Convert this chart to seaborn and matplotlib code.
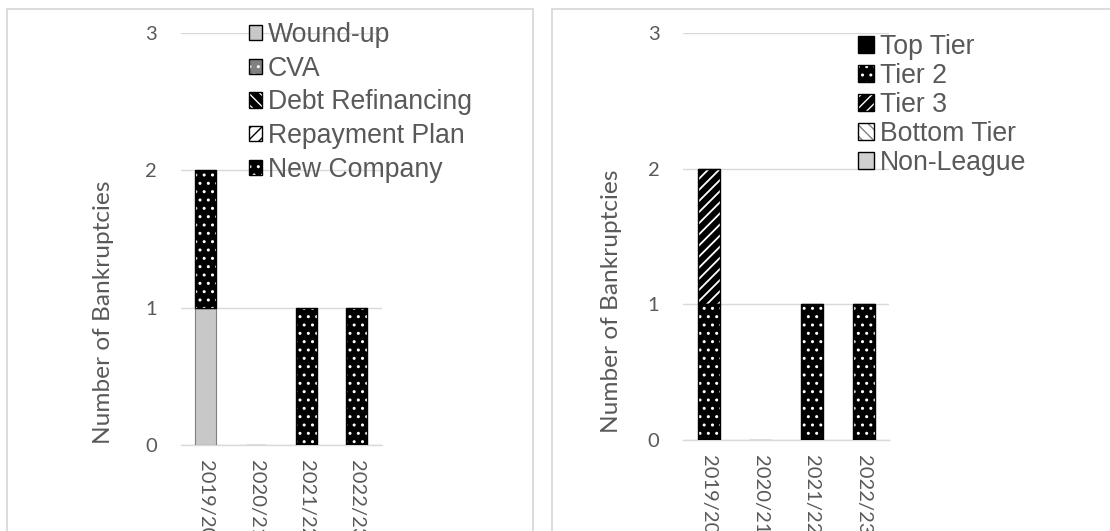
import matplotlib
matplotlib.use("Agg")
import matplotlib.pyplot as plt
import matplotlib.patches as mpatches
import seaborn as sns

# Seasons on the x axis
seasons = ["2019/20", "2020/21", "2021/22", "2022/23"]

# Left panel: outcome of each bankruptcy
outcome_labels = ["Wound-up", "CVA", "Debt Refinancing", "Repayment Plan", "New Company"]
wound_up = [1, 0, 0, 0]
cva = [0, 0, 0, 0]
debt_refinancing = [0, 0, 0, 0]
repayment_plan = [0, 0, 0, 0]
new_company = [1, 0, 1, 1]

# Right panel: league tier of the club at the time
tier_labels = ["Top Tier", "Tier 2", "Tier 3", "Bottom Tier", "Non-League"]
top_tier = [0, 0, 0, 0]
tier_2 = [1, 0, 1, 1]
tier_3 = [1, 0, 0, 0]
bottom_tier = [0, 0, 0, 0]
non_league = [0, 0, 0, 0]

y_ticks = [0, 1, 2, 3]

sns.set_theme(style="white")
plt.rcParams["hatch.linewidth"] = 1.0

TEXT = "#595959"
GRID = "#d9d9d9"
TICK_FONT = "Lato"
LEG_FONT = "Liberation Sans"

# (face, edge/hatch colour, hatch, edge width, hatch width)
outcome_styles = [
    ("#c8c8c8", "#7f7f7f", None, 0.8, 1.0),
    ("#808080", "white", "..", 0.0, 1.0),
    ("black", "white", "\\\\\\", 0.0, 1.3),
    ("white", "black", "///", 0.8, 1.3),
    ("black", "white", "..", 0.0, 1.0),
]
tier_styles = [
    ("black", "black", None, 0.0, 1.0),
    ("black", "white", "..", 0.0, 1.0),
    ("black", "white", "///", 0.0, 1.3),
    ("white", "#808080", "\\\\\\", 0.8, 1.3),
    ("#d0d0d0", "black", None, 0.8, 1.0),
]

fig = plt.figure(figsize=(11.1, 5.31), dpi=100)
W, H = 1110, 531


def fig_rect(x0, y_top, x1, y_bottom):
    return [x0 / W, 1 - y_bottom / H, (x1 - x0) / W, (y_bottom - y_top) / H]


ax_l = fig.add_axes(fig_rect(180.5, 32.8, 382, 445))
ax_r = fig.add_axes(fig_rect(683, 32.8, 889.4, 440))


def stacked(ax, series, styles, width):
    bottom = [0] * len(seasons)
    for values, (face, edge, hatch, lw, hlw) in zip(series, styles):
        n_before = len(ax.patches)
        sns.barplot(x=seasons, y=values, order=seasons, ax=ax, width=width,
                    errorbar=None, saturation=1, color=face, facecolor=face,
                    edgecolor=edge, hatch=hatch, linewidth=lw,
                    bottom=list(bottom), zorder=3)
        new = ax.patches[n_before:]
        for p in new:
            if hasattr(p, "set_hatch_linewidth"):
                p.set_hatch_linewidth(hlw)
        # thin dark frame around hatched segments with a white pattern
        if hatch and edge == "white":
            for p in new:
                if p.get_height() > 0:
                    ax.add_patch(mpatches.Rectangle(
                        p.get_xy(), p.get_width(), p.get_height(),
                        fill=False, edgecolor="black", linewidth=1.0, zorder=4))
        bottom = [b + v for b, v in zip(bottom, values)]


def style_axes(ax, label_x, label_y):
    ax.set_ylim(0, 3)
    ax.set_yticks(y_ticks)
    ax.set_yticklabels([str(t) for t in y_ticks], fontfamily=TICK_FONT,
                       fontsize=14.5, color=TEXT)
    ax.set_xticks(range(len(seasons)))
    ax.set_xticklabels(seasons, rotation=-90, fontfamily=TICK_FONT,
                       fontsize=14.5, color=TEXT, va="top", ha="center")
    ax.tick_params(axis="y", length=0, pad=17)
    ax.tick_params(axis="x", length=0, pad=10.5)
    for s in ("left", "right", "top"):
        ax.spines[s].set_visible(False)
    ax.spines["bottom"].set_color(GRID)
    ax.spines["bottom"].set_linewidth(1.0)
    ax.spines["bottom"].set_zorder(2)
    ax.yaxis.grid(True, color=GRID, linewidth=1.0, zorder=0)
    ax.set_axisbelow(True)
    ax.set_xlabel("")
    ax.set_ylabel("Number of Bankruptcies", fontfamily=TICK_FONT,
                  fontsize=17.6, color=TEXT)
    ax.yaxis.set_label_coords(label_x, label_y)
    ax.yaxis.label.set_va("center")


stacked(ax_l, [wound_up, cva, debt_refinancing, repayment_plan, new_company],
        outcome_styles, 0.41)
stacked(ax_r, [top_tier, tier_2, tier_3, bottom_tier, non_league],
        tier_styles, 0.43)
style_axes(ax_l, -0.38, 0.323)
style_axes(ax_r, -0.346, 0.34)


def legend(ax, labels, styles, x, y_top, spacing, hsize):
    handles = []
    for face, edge, hatch, lw, hlw in styles:
        fill = mpatches.Patch(facecolor=face, edgecolor=edge if hatch else face,
                              hatch=hatch, linewidth=0.0)
        frame = mpatches.Patch(facecolor="none", edgecolor="black", linewidth=1.0)
        handles.append((fill, frame))
    leg = ax.legend(handles, labels, loc="upper left",
                    bbox_to_anchor=(x / W, 1 - y_top / H),
                    bbox_transform=fig.transFigure, frameon=False,
                    borderpad=0, borderaxespad=0, labelspacing=spacing,
                    handlelength=hsize, handleheight=hsize, handletextpad=0.22,
                    prop={"family": LEG_FONT, "size": 19.2})
    for t in leg.get_texts():
        t.set_color(TEXT)
    leg.set_zorder(5)


legend(ax_l, outcome_labels, outcome_styles, 248.5, 22, 0.29, 0.5)
legend(ax_r, tier_labels, tier_styles, 858.3, 34, 0.11, 0.58)

# Light grey frames around each panel
for x0, x1 in ((7, 533), (551.7, 1120)):
    fig.add_artist(mpatches.Rectangle((x0 / W, -0.1), (x1 - x0) / W, 1.1 - 9 / H,
                                      transform=fig.transFigure, fill=False,
                                      edgecolor=GRID, linewidth=1.3))

fig.savefig("out.png", dpi=100)
